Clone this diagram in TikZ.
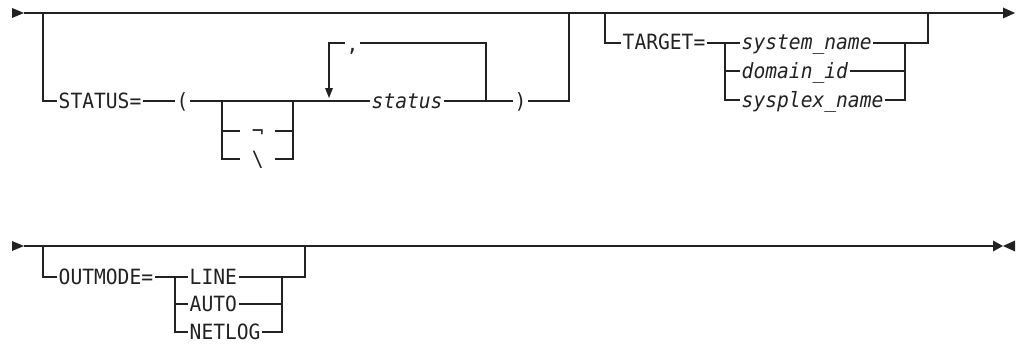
\documentclass[tikz,border=0pt]{standalone}
\usepackage{fontspec}
\setmonofont{DejaVu Sans Mono}[FakeStretch=0.934]
\definecolor{ink}{HTML}{222222}
\tikzset{
  rail/.style={line width=1.2pt, draw=ink, line cap=butt},
  tipfill/.style={fill=ink, draw=none},
  kw/.style={inner xsep=1.5pt, inner ysep=0pt, text height=14pt, text depth=0pt,
             anchor=west, font=\fontsize{21}{22}\ttfamily, text=ink},
  var/.style={kw, font=\fontsize{21}{22}\ttfamily\itshape},
  gapped/.style={kw, inner xsep=11.6pt},
}
\begin{document}
\begin{tikzpicture}[x=1pt, y=-1pt]
\useasboundingbox (0,0) rectangle (1019,345);

% ---------- row 1 ----------
\coordinate (s1) at (12,13);
\coordinate (a1) at (24,13);
\coordinate (e1) at (1003,13);
\coordinate (j1) at (43,13);   \coordinate (j1b) at (43,101);
\coordinate (k1) at (222,101); \coordinate (k1b) at (222,131); \coordinate (k1c) at (222,159);
\coordinate (k2) at (293,101); \coordinate (k2b) at (293,131); \coordinate (k2c) at (293,159);
\coordinate (lp) at (329,101); \coordinate (lpt) at (329,43);  \coordinate (lpa) at (329,88);
\coordinate (rp) at (486,101); \coordinate (rpt) at (486,43);
\coordinate (j2) at (569,101); \coordinate (j2t) at (569,13);
\coordinate (t1) at (605,13);  \coordinate (t1b) at (605,43);
\coordinate (t2) at (725,43);  \coordinate (t2b) at (725,71);  \coordinate (t2c) at (725,100);
\coordinate (t3) at (905,43);  \coordinate (t3b) at (905,71);  \coordinate (t3c) at (905,100);
\coordinate (t4) at (928,43);  \coordinate (t4t) at (928,13);

\node[kw] (status) at (57,101) {STATUS=};
\node[kw] (lpar) at (175,101) {(};
\node[gapped] (not) at (240,131) {¬};
\node[gapped] (bsl) at (240,159) {\textbackslash};
\node[var] (stat) at (370,101) {status};
\node[kw] (rpar) at (513,101) {)};
\node[kw, yshift=-2pt] (comma) at (345,43) {,};
\node[kw] (target) at (621,43) {TARGET=};
\node[var] (sysn) at (740,43) {system\_name};
\node[var] (dom) at (740,71) {domain\_id};
\node[var] (plex) at (740,100) {sysplex\_name};

\fill[tipfill] (12,8) -- (a1) -- (12,18) -- cycle;
\draw[rail] (a1) -- (e1);
\fill[tipfill] (1003,7.5) -- (1015,13) -- (1003,18.5) -- cycle;

\draw[rail] (j1) -- (j1b) -- (status.west);
\draw[rail] (status.east) -- (lpar.west);
\draw[rail] (lpar.east) -- (k1) -- (k2) -- (lp) -- (stat.west);
\draw[rail] (k1) -- (k1c) -- (bsl.west);
\draw[rail] (k1b) -- (not.west);
\draw[rail] (not.east) -- (k2b);
\draw[rail] (bsl.east) -- (k2c) -- (k2);
\draw[rail] (stat.east) -- (rp) -- (rpar.west);
\draw[rail] (rpar.east) -- (j2) -- (j2t);
\draw[rail] (rp) -- (rpt) -- (comma.east |- rpt);
\draw[rail] (comma.west |- lpt) -- (lpt) -- (lpa);
\fill[tipfill] (325,88) -- (333,88) -- (329,98) -- cycle;

\draw[rail] (t1) -- (t1b) -- (target.west);
\draw[rail] (target.east) -- (t2) -- (sysn.west);
\draw[rail] (t2) -- (t2c) -- (plex.west);
\draw[rail] (t2b) -- (dom.west);
\draw[rail] (sysn.east) -- (t3) -- (t4) -- (t4t);
\draw[rail] (dom.east) -- (t3b);
\draw[rail] (plex.east) -- (t3c) -- (t3);

% ---------- row 2 ----------
\coordinate (s2) at (12,246);
\coordinate (a2) at (24,246);
\coordinate (e2) at (993,246);
\coordinate (m1) at (43,246);  \coordinate (m1b) at (43,277);
\coordinate (n1) at (175,277); \coordinate (n1b) at (175,304); \coordinate (n1c) at (175,332);
\coordinate (n2) at (282,277); \coordinate (n2b) at (282,304); \coordinate (n2c) at (282,332);
\coordinate (n3) at (305,277); \coordinate (n3t) at (305,246);
\coordinate (th1) at (311,246); \coordinate (th2) at (335,246);

\node[kw] (outm) at (57,277) {OUTMODE=};
\node[kw] (nline) at (188,277) {LINE};
\node[kw] (nauto) at (188,304) {AUTO};
\node[kw] (nlog) at (188,332) {NETLOG};

\fill[tipfill] (12,241) -- (a2) -- (12,251) -- cycle;
\draw[rail] (a2) -- (e2);
\draw[line width=2.2pt, draw=ink] (th1) -- (th2);
\fill[tipfill] (993,240.5) -- (1003,246) -- (993,251.5) -- cycle;
\fill[tipfill] (1015,240.5) -- (1003,246) -- (1015,251.5) -- cycle;

\draw[rail] (m1) -- (m1b) -- (outm.west);
\draw[rail] (outm.east) -- (n1) -- (nline.west);
\draw[rail] (n1) -- (n1c) -- (nlog.west);
\draw[rail] (n1b) -- (nauto.west);
\draw[rail] (nline.east) -- (n2) -- (n3) -- (n3t);
\draw[rail] (nauto.east) -- (n2b);
\draw[rail] (nlog.east) -- (n2c) -- (n2);
\end{tikzpicture}
\end{document}
